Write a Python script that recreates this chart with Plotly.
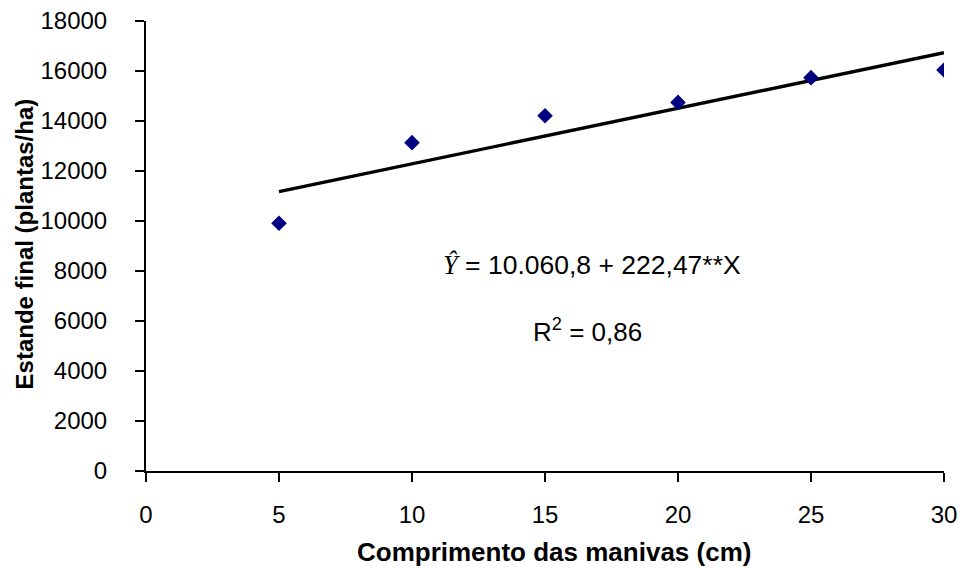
import plotly.graph_objects as go

comprimento = [5, 10, 15, 20, 25, 30]
estande = [9910, 13135, 14210, 14745, 15735, 16040]

reg_x = [5, 30]
reg_y = [11173, 16734]

x_ticks = [0, 5, 10, 15, 20, 25, 30]
y_ticks = [0, 2000, 4000, 6000, 8000, 10000, 12000, 14000, 16000, 18000]

fig = go.Figure()
fig.add_trace(go.Scatter(x=reg_x, y=reg_y, mode="lines",
                         line=dict(color="black", width=3.4), showlegend=False))
fig.add_trace(go.Scatter(x=comprimento, y=estande, mode="markers",
                         marker=dict(symbol="diamond", color="#000080", size=12),
                         showlegend=False))

font = "Liberation Sans, Arial, sans-serif"
fig.add_annotation(x=16.77, y=8240, xref="x", yref="y", showarrow=False,
                   text="<span style='font-family:Liberation Serif, Times New Roman, serif'><i>Y\u0302</i></span> = 10.060,8 + 222,47**X",
                   font=dict(family=font, size=26.5, color="black"))
fig.add_annotation(x=16.58, y=5640, xref="x", yref="y", showarrow=False,
                   text="R<sup>2</sup> = 0,86",
                   font=dict(family=font, size=26, color="black"))
# axis titles
fig.add_annotation(x=0.5107, y=-0.18, xref="paper", yref="paper", showarrow=False,
                   xanchor="center", yanchor="middle",
                   text="<b>Comprimento das manivas (cm)</b>",
                   font=dict(family=font, size=26, color="black"))
fig.add_annotation(x=-0.1529, y=0.5056, xref="paper", yref="paper", showarrow=False,
                   xanchor="center", yanchor="middle", textangle=-90,
                   text="<b>Estande final (plantas/ha)</b>",
                   font=dict(family=font, size=24, color="black"))

fig.update_layout(
    width=962, height=568,
    margin=dict(l=146, r=18, t=21, b=97),
    plot_bgcolor="white", paper_bgcolor="white",
    font=dict(family=font, size=18, color="black"),
)
fig.update_xaxes(range=[0, 30], tickvals=x_ticks, ticktext=[str(v) for v in x_ticks],
                 showgrid=False, zeroline=False, automargin=False,
                 showline=True, linecolor="black", linewidth=2,
                 ticks="outside", ticklen=9, tickwidth=2, tickcolor="black",
                 tickfont=dict(size=24), ticklabelstandoff=12)
fig.update_yaxes(range=[0, 18000], tickvals=y_ticks, ticktext=[str(v) for v in y_ticks],
                 showgrid=False, zeroline=False, automargin=False,
                 showline=True, linecolor="black", linewidth=2,
                 ticks="outside", ticklen=9, tickwidth=2, tickcolor="black",
                 tickfont=dict(size=24), ticklabelstandoff=23)

fig.write_html("out.html", config={"displayModeBar": False},
               post_script="document.body.style.margin='0';")
